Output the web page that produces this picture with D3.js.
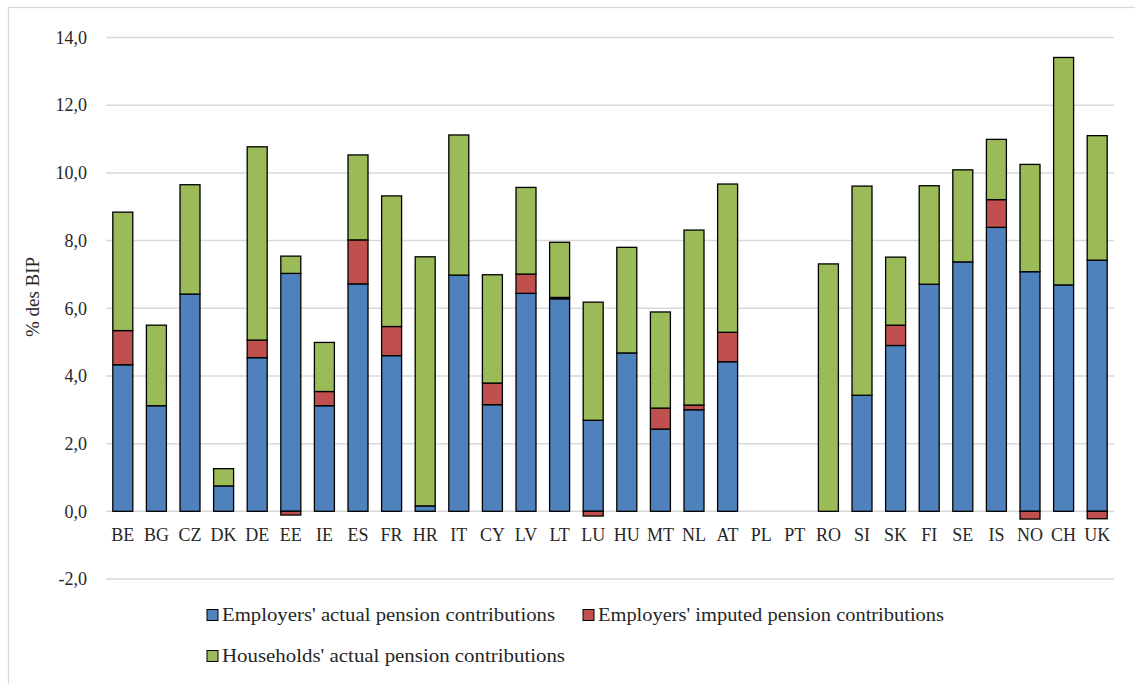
<!DOCTYPE html>
<html>
<head>
<meta charset="utf-8">
<script src="https://cdn.jsdelivr.net/npm/d3@7"></script>
<style>
  html, body { margin: 0; padding: 0; background: #fff; }
  svg, svg text { font-family: "Liberation Serif", "Times New Roman", "DejaVu Serif", serif !important; }
</style>
</head>
<body>
<svg id="chart" width="1135" height="684"></svg>
<script>
// Pension contributions by type, % of GDP
const countries = ["BE","BG","CZ","DK","DE","EE","IE","ES","FR","HR","IT","CY","LV","LT","LU","HU","MT","NL","AT","PL","PT","RO","SI","SK","FI","SE","IS","NO","CH","UK"];
const employersActual  = [4.33,3.12,6.42,0.75,4.54,7.03,3.12,6.72,4.60,0.16,6.98,3.15,6.44,6.28,2.69,4.68,2.43,3.00,4.42,0,0,0,3.43,4.90,6.71,7.37,8.39,7.08,6.69,7.42];
const employersImputed = [1.01,0,0,0,0.52,-0.11,0.42,1.30,0.86,0,0,0.64,0.57,0.04,-0.14,0,0.62,0.14,0.87,0,0,0,0,0.60,0,0,0.82,-0.23,0,-0.22];
const householdsActual = [3.50,2.38,3.23,0.51,5.71,0.51,1.45,2.51,3.86,7.36,4.14,3.20,2.56,1.63,3.49,3.12,2.84,5.17,4.38,0,0,7.31,6.18,2.01,2.91,2.72,1.78,3.17,6.72,3.68];
const yTicks = [-2,0,2,4,6,8,10,12,14];

const seriesNames = [
  "Employers' actual pension contributions",
  "Employers' imputed pension contributions",
  "Households' actual pension contributions"
];
const seriesColors = ["#4f81bd", "#c0504d", "#9bbb59"];
const keys = ["a", "b", "c"];

const rows = countries.map((c, i) => ({
  country: c, a: employersActual[i], b: employersImputed[i], c: householdsActual[i]
}));

const svg = d3.select("#chart");
const plotLeft = 106, plotRight = 1114, plotTop = 37.5, plotBottom = 579;
const textColor = "#262626";

// outer frame
svg.append("rect")
  .attr("x", 8.5).attr("y", 7.5)
  .attr("width", 1140).attr("height", 700)
  .attr("fill", "none").attr("stroke", "#d9d9d9").attr("stroke-width", 1.3);

const x = d3.scaleBand().domain(countries).range([plotLeft, plotRight])
  .paddingInner(0.405).paddingOuter(0.2025);
const y = d3.scaleLinear().domain([-2, 14]).range([plotBottom, plotTop]);

const fmt = v => d3.format(".1f")(v).replace(".", ",").replace("−", "-");

// gridlines
svg.append("g").selectAll("line").data(yTicks).join("line")
  .attr("x1", plotLeft).attr("x2", plotRight)
  .attr("y1", d => y(d)).attr("y2", d => y(d))
  .attr("stroke", "#d9d9d9").attr("stroke-width", 1.5);

// y axis labels
const yAxis = d3.axisLeft(y).tickValues(yTicks).tickFormat(fmt).tickSize(0).tickPadding(0);
const yg = svg.append("g").attr("transform", `translate(87,0)`).call(yAxis);
yg.attr("font-family", null);
yg.select(".domain").remove();
yg.selectAll("text").attr("font-size", 18).attr("fill", textColor);

// y title
svg.append("text")
  .attr("transform", `translate(39,297) rotate(-90)`)
  .attr("text-anchor", "middle")
  .attr("font-size", 19).attr("fill", textColor)
  .text("% des BIP");

// stacked bars
const stacked = d3.stack().keys(keys).offset(d3.stackOffsetDiverging)(rows);
svg.append("g").selectAll("g").data(stacked).join("g")
  .attr("fill", (d, i) => seriesColors[i])
  .selectAll("rect")
  .data(d => d.filter(p => p[1] - p[0] !== 0))
  .join("rect")
  .attr("x", d => x(d.data.country))
  .attr("width", x.bandwidth())
  .attr("y", d => y(Math.max(d[0], d[1])))
  .attr("height", d => Math.abs(y(d[0]) - y(d[1])))
  .attr("stroke", "#000").attr("stroke-width", 1.3);

// category labels
const xAxis = d3.axisBottom(x).tickSize(0).tickPadding(0);
const xg = svg.append("g").attr("transform", `translate(0,${y(0) + 17})`).call(xAxis);
xg.attr("font-family", null);
xg.select(".domain").remove();
xg.selectAll("text").attr("font-size", 18).attr("fill", textColor);

// legend
const legendItems = [
  { x: 207, y: 615, w: 333 },
  { x: 583, y: 615, w: 346 },
  { x: 207, y: 656, w: 343 }
];
const lg = svg.append("g");
legendItems.forEach((it, i) => {
  lg.append("rect")
    .attr("x", it.x).attr("y", it.y - 5.5)
    .attr("width", 11).attr("height", 11)
    .attr("fill", seriesColors[i]).attr("stroke", "#000").attr("stroke-width", 1);
  lg.append("text")
    .attr("x", it.x + 15).attr("y", it.y)
    .attr("dy", "0.35em")
    .attr("font-size", 18).attr("fill", textColor)
    .attr("textLength", it.w).attr("lengthAdjust", "spacingAndGlyphs")
    .text(seriesNames[i]);
});
</script>
</body>
</html>
